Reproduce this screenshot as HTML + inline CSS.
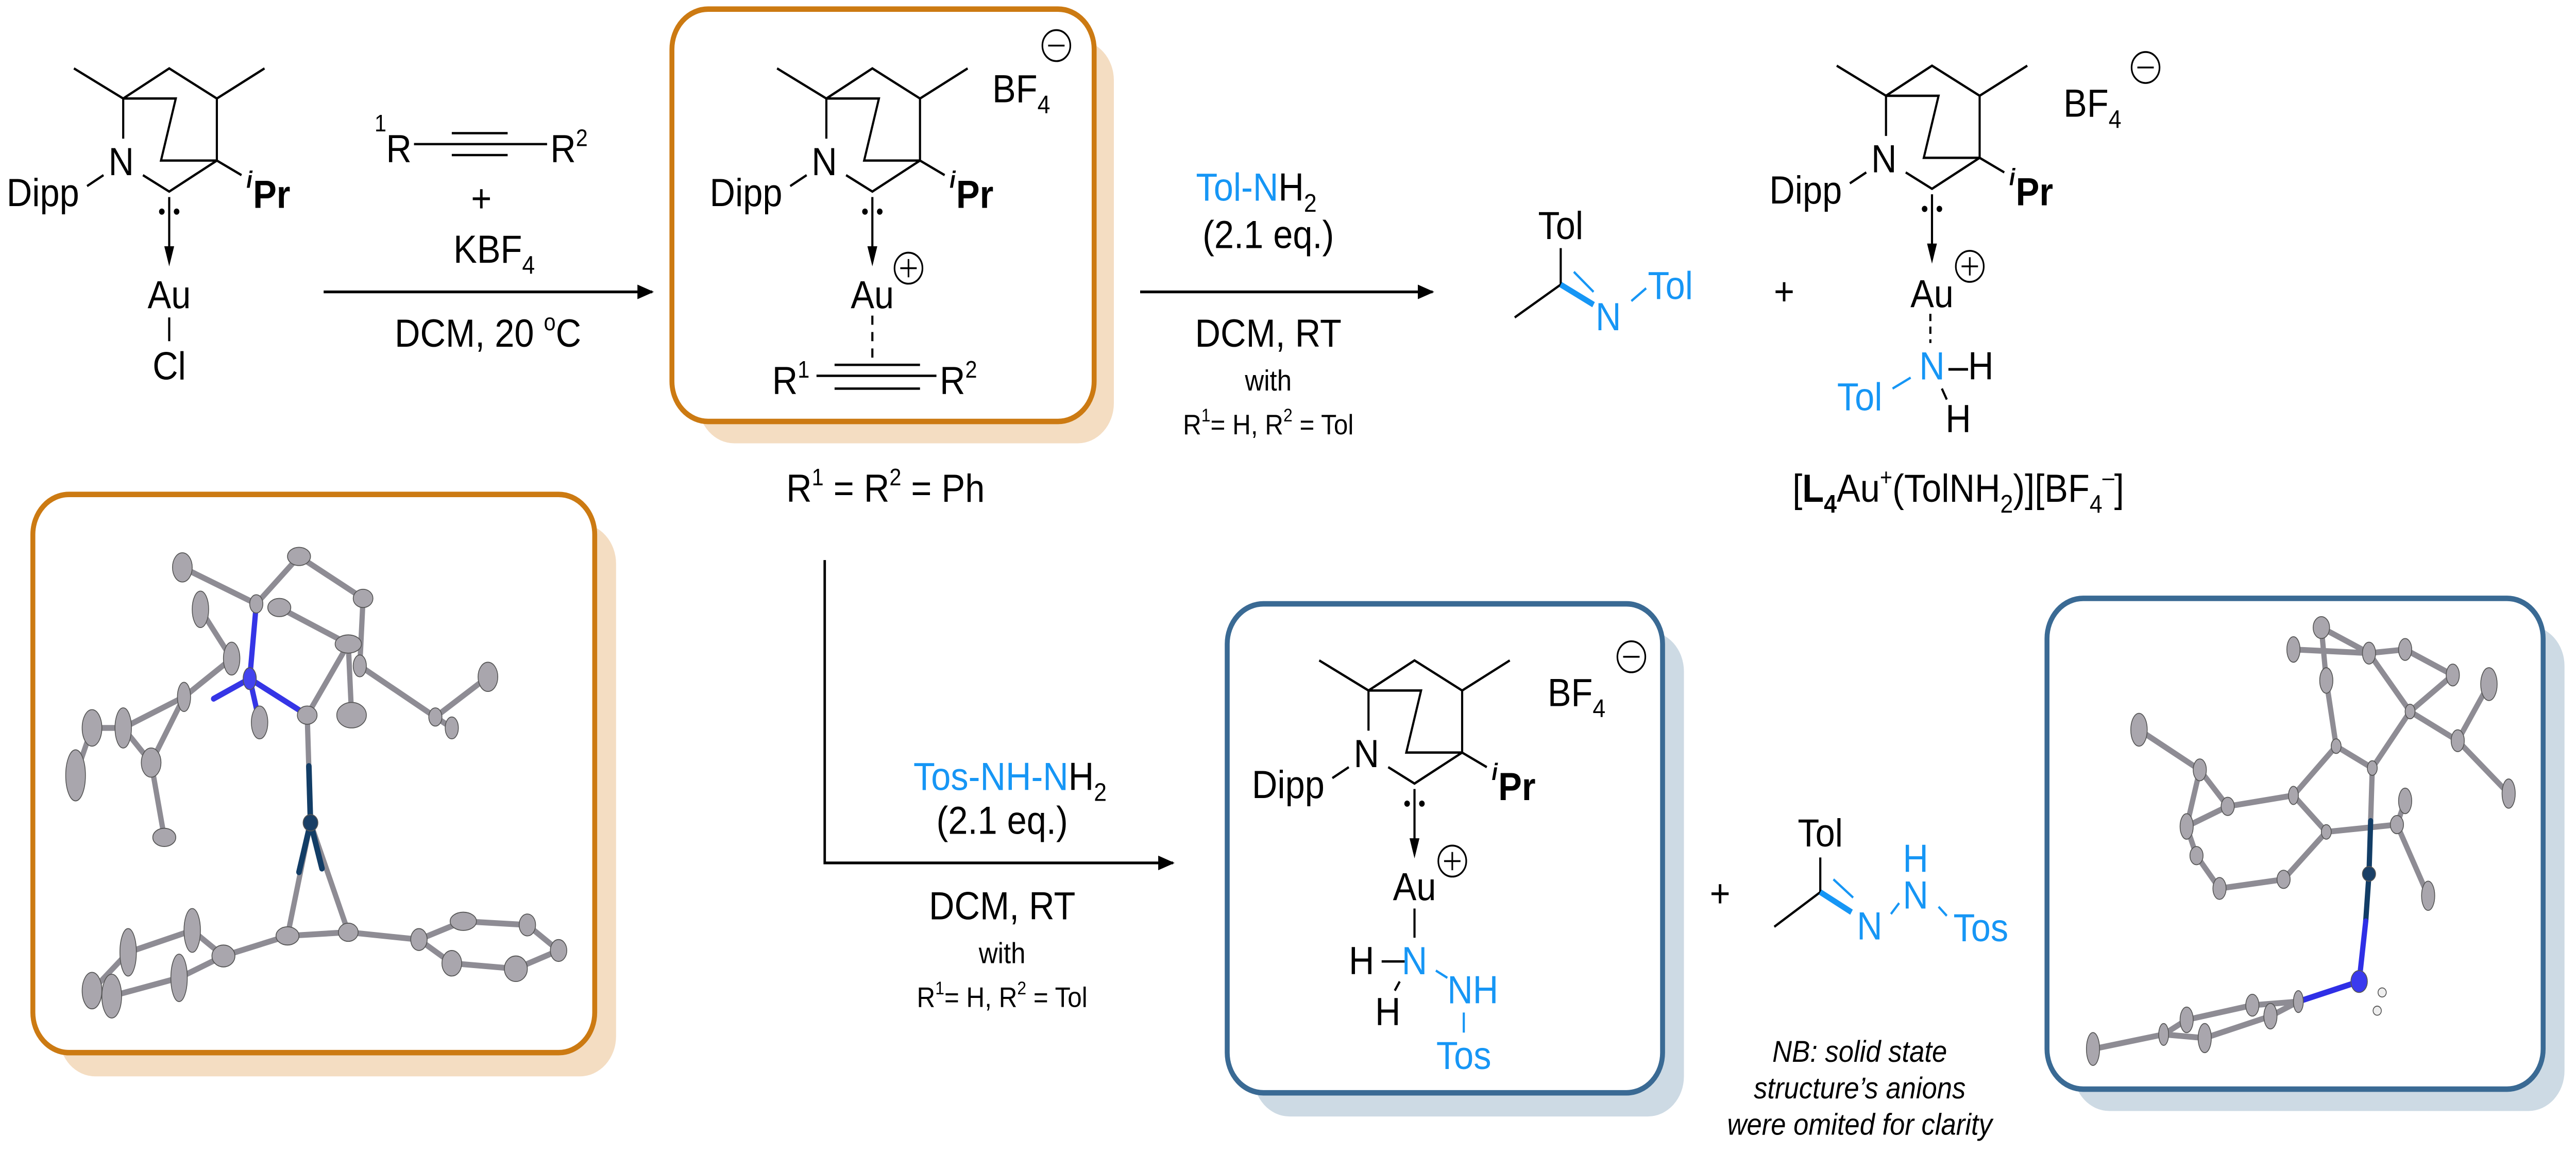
<!DOCTYPE html>
<html><head><meta charset="utf-8"><style>
html,body{margin:0;padding:0;background:#fff;overflow:hidden;width:100%;height:100%;}
svg{display:block;position:fixed;left:0;top:0;width:100vw;height:100vh;}
text{font-family:"Liberation Sans",Arial,sans-serif;}
</style></head><body>
<svg viewBox="0 0 1568 632" preserveAspectRatio="none" xmlns="http://www.w3.org/2000/svg">
<defs>
<marker id="ah" markerWidth="10" markerHeight="8" refX="9" refY="4" orient="auto" markerUnits="userSpaceOnUse"><path d="M0,0 L10,4 L0,8 Z" fill="#000"/></marker>
</defs>

<rect x="425" y="22" width="253" height="221" rx="22" fill="#F4DDC2"/>
<rect x="409" y="5" width="257" height="226" rx="22" fill="#fff" stroke="#CC7A12" stroke-width="3"/>
<rect x="36" y="287" width="339" height="303" rx="22" fill="#F4DDC2"/>
<rect x="20" y="271" width="342" height="306" rx="22" fill="#fff" stroke="#CC7A12" stroke-width="3"/>
<rect x="763" y="346" width="262" height="266" rx="22" fill="#CDDAE4"/>
<rect x="747" y="331" width="265" height="268" rx="22" fill="#fff" stroke="#3A6A94" stroke-width="3"/>
<rect x="1262" y="343" width="299" height="266" rx="22" fill="#CDDAE4"/>
<rect x="1246" y="328" width="302" height="269" rx="22" fill="#fff" stroke="#3A6A94" stroke-width="3"/>

<g stroke="#000" stroke-width="1.3" fill="none">
<g transform="translate(0,0)">
<path d="M45,37.5 L75,54 L103,37.5 L132,54 L161,37.5 M75,54 L107,54 L98,88 L132,88 M75,54 L75,76 M132,54 L132,88 L103,105 L87,96 M132,88 L147,96 M53,102 L63,96 M103,108 L103,137"/>
</g>
<g transform="translate(428,0)">
<path d="M45,37.5 L75,54 L103,37.5 L132,54 L161,37.5 M75,54 L107,54 L98,88 L132,88 M75,54 L75,76 M132,54 L132,88 L103,105 L87,96 M132,88 L147,96 M53,102 L63,96 M103,108 L103,137"/>
</g>
<g transform="translate(1073,-1.5)">
<path d="M45,37.5 L75,54 L103,37.5 L132,54 L161,37.5 M75,54 L107,54 L98,88 L132,88 M75,54 L75,76 M132,54 L132,88 L103,105 L87,96 M132,88 L147,96 M53,102 L63,96 M103,108 L103,137"/>
</g>
<g transform="translate(758,324.5)">
<path d="M45,37.5 L75,54 L103,37.5 L132,54 L161,37.5 M75,54 L107,54 L98,88 L132,88 M75,54 L75,76 M132,54 L132,88 L103,105 L87,96 M132,88 L147,96 M53,102 L63,96 M103,108 L103,137"/>
</g>
<path d="M103,174 L103,187"/>
<path d="M252,79 L333,79 M275,73 L309,73 M275,85 L309,85"/>
<path d="M531,173 L531,196" stroke-dasharray="5,4"/>
<path d="M497,206 L570,206 M508,200 L560,200 M508,213 L560,213"/>
<path d="M197,160 L397,160" stroke-width="1.5" marker-end="url(#ah)"/>
<path d="M694,160 L872,160" stroke-width="1.5" marker-end="url(#ah)"/>
<path d="M502,307 L502,473 L714,473" stroke-width="1.5" marker-end="url(#ah)"/>
<path d="M950,136 L950,156 L922,174"/>
<path d="M1175,172 L1175,188" stroke-dasharray="4,3"/>
<path d="M1182,213 L1185,219"/>
<path d="M861,498 L861,514 M841,527 L855,527 M852,538 L849,543"/>
<path d="M1108,470 L1108,489 L1080,508"/>
</g>
<g fill="#000">
<path d="M100,135 L106,135 L103,146 Z"/>
<path d="M528,135 L534,135 L531,146 Z"/>
<path d="M1173,133.5 L1179,133.5 L1176,144.5 Z"/>
<path d="M858,459.5 L864,459.5 L861,470.5 Z"/>
<circle cx="98.5" cy="116" r="1.7"/><circle cx="107.5" cy="116" r="1.7"/>
<circle cx="526.5" cy="116" r="1.7"/><circle cx="535.5" cy="116" r="1.7"/>
<circle cx="1171.5" cy="114.5" r="1.7"/><circle cx="1180.5" cy="114.5" r="1.7"/>
<circle cx="856.5" cy="440.5" r="1.7"/><circle cx="865.5" cy="440.5" r="1.7"/>
</g>
<g stroke="#1696F5" stroke-width="1.3" fill="none">
<path d="M950,156 L970,167" stroke-width="3.2"/>
<path d="M958,149 L970,160"/>
<path d="M993,165 L1002,158"/>
<path d="M1152,213 L1163,207"/>
<path d="M874,532 L881,536"/>
<path d="M891,555 L891,566"/>
<path d="M1108,489 L1127,500" stroke-width="3.2"/>
<path d="M1116,482 L1128,492"/>
<path d="M1151,501 L1156,495"/>
<path d="M1180,497 L1185,502"/>
</g>

<g fill="none" stroke="#000" stroke-width="1">
<circle cx="643" cy="25" r="8.5"/><circle cx="553" cy="147" r="8.5"/>
<circle cx="1306" cy="37" r="8.5"/><circle cx="1199" cy="146" r="8.5"/>
<circle cx="993" cy="360" r="8.5"/><circle cx="884" cy="472" r="8.5"/>
<path d="M638,25 L648,25 M548,147 L558,147 M553,142 L553,152 M1301,37 L1311,37 M1194,146 L1204,146 M1199,141 L1199,151 M988,360 L998,360 M879,472 L889,472 M884,467 L884,477"/>
</g>

<g font-size="21.5" fill="#000">
<text x="4" y="113">Dipp</text><text x="66" y="96">N</text>
<text x="150" y="103" font-size="13" font-style="italic" font-weight="bold">i</text><text x="154" y="114" font-weight="bold">Pr</text>
<text x="103" y="169" text-anchor="middle">Au</text>
<text x="103" y="208" text-anchor="middle">Cl</text>

<text x="432" y="113">Dipp</text><text x="494" y="96">N</text>
<text x="578" y="103" font-size="13" font-style="italic" font-weight="bold">i</text><text x="582" y="114" font-weight="bold">Pr</text>
<text x="531" y="169" text-anchor="middle">Au</text>
<text x="604" y="56">BF<tspan font-size="14" dy="6">4</tspan></text>
<text x="470" y="216">R<tspan font-size="13" dy="-9">1</tspan></text>
<text x="572" y="216">R<tspan font-size="13" dy="-9">2</tspan></text>

<text x="1077" y="111.5">Dipp</text><text x="1139" y="94.5">N</text>
<text x="1223" y="101.5" font-size="13" font-style="italic" font-weight="bold">i</text><text x="1227" y="112.5" font-weight="bold">Pr</text>
<text x="1176" y="168.5" text-anchor="middle">Au</text>
<text x="1256" y="64">BF<tspan font-size="14" dy="6">4</tspan></text>

<text x="762" y="437.5">Dipp</text><text x="824" y="420.5">N</text>
<text x="908" y="427.5" font-size="13" font-style="italic" font-weight="bold">i</text><text x="912" y="438.5" font-weight="bold">Pr</text>
<text x="861" y="493.5" text-anchor="middle">Au</text>
<text x="942" y="387">BF<tspan font-size="14" dy="6">4</tspan></text>
<text x="821" y="534">H</text>
<text x="861" y="534" text-anchor="middle" fill="#1696F5">N</text>
<text x="837" y="562">H</text>
<text x="881" y="550" fill="#1696F5">NH</text>
<text x="891" y="586" text-anchor="middle" fill="#1696F5">Tos</text>

<text x="228" y="72" font-size="13">1</text><text x="235" y="89">R</text>
<text x="335" y="89">R<tspan font-size="13" dy="-9">2</tspan></text>
<text x="293" y="116" text-anchor="middle">+</text>
<text x="276" y="144">KBF<tspan font-size="14" dy="6">4</tspan></text>
<text x="297" y="190" text-anchor="middle">DCM, 20 <tspan font-size="13" dy="-9">o</tspan><tspan dy="9">C</tspan></text>
<text x="539" y="275" text-anchor="middle">R<tspan font-size="13" dy="-9">1</tspan><tspan dy="9"> = R</tspan><tspan font-size="13" dy="-9">2</tspan><tspan dy="9"> = Ph</tspan></text>

<text x="728" y="110"><tspan fill="#1696F5">Tol-N</tspan>H<tspan font-size="14" dy="6">2</tspan></text>
<text x="772" y="136" text-anchor="middle">(2.1 eq.)</text>
<text x="772" y="190" text-anchor="middle">DCM, RT</text>
<text x="772" y="214" text-anchor="middle" font-size="16">with</text>
<text x="772" y="238" text-anchor="middle" font-size="15.5">R<tspan font-size="10" dy="-7">1</tspan><tspan dy="7">= H, R</tspan><tspan font-size="10" dy="-7">2</tspan><tspan dy="7"> = Tol</tspan></text>

<text x="950" y="131" text-anchor="middle">Tol</text>
<text x="979" y="181" text-anchor="middle" fill="#1696F5">N</text>
<text x="1003" y="164" fill="#1696F5">Tol</text>
<text x="1086" y="167" text-anchor="middle">+</text>
<text x="1132" y="225" text-anchor="middle" fill="#1696F5">Tol</text>
<text x="1176" y="208" text-anchor="middle" fill="#1696F5">N</text>
<text x="1186" y="208">–H</text>
<text x="1192" y="237" text-anchor="middle">H</text>
<text x="1192" y="275" text-anchor="middle">[<tspan font-weight="bold">L</tspan><tspan font-size="14" dy="6" font-weight="bold">4</tspan><tspan dy="-6">Au</tspan><tspan font-size="13" dy="-9">+</tspan><tspan dy="9">(TolNH</tspan><tspan font-size="14" dy="6">2</tspan><tspan dy="-6">)][BF</tspan><tspan font-size="14" dy="6">4</tspan><tspan font-size="13" dy="-15">–</tspan><tspan dy="9">]</tspan></text>

<text x="556" y="433"><tspan fill="#1696F5">Tos-NH-N</tspan>H<tspan font-size="14" dy="6">2</tspan></text>
<text x="610" y="457" text-anchor="middle">(2.1 eq.)</text>
<text x="610" y="504" text-anchor="middle">DCM, RT</text>
<text x="610" y="528" text-anchor="middle" font-size="16">with</text>
<text x="610" y="552" text-anchor="middle" font-size="15.5">R<tspan font-size="10" dy="-7">1</tspan><tspan dy="7">= H, R</tspan><tspan font-size="10" dy="-7">2</tspan><tspan dy="7"> = Tol</tspan></text>

<text x="1047" y="497" text-anchor="middle">+</text>
<text x="1108" y="464" text-anchor="middle">Tol</text>
<text x="1138" y="515" text-anchor="middle" fill="#1696F5">N</text>
<text x="1166" y="478" text-anchor="middle" fill="#1696F5">H</text>
<text x="1166" y="498" text-anchor="middle" fill="#1696F5">N</text>
<text x="1189" y="516" fill="#1696F5">Tos</text>
<g font-size="16.5" font-style="italic" text-anchor="middle">
<text x="1132" y="582">NB: solid state</text>
<text x="1132" y="602">structure’s anions</text>
<text x="1132" y="622">were omited for clarity</text>
</g>
</g>

<g stroke-linecap="round" fill="none">
<g stroke="#8e8c94" stroke-width="3.2">
<path d="M111,311 L156,331 L182,305 L221,328 L219,365 M170,333 L212,353 L187,392 M212,353 L214,392 M219,365 L265,393 L297,371 M265,393 L275,399 M122,334 L141,361 L112,382 L75,399 L56,399 L46,425 M75,399 L92,418 L100,459 M112,382 L92,418"/>
<path d="M189,451 L175,513 L212,511 Z M212,511 L255,515 L282,505 L321,507 L340,521 L314,531 L275,528 L255,515 M175,513 L136,524 L117,510 L78,522 L56,543 L68,546 L109,536 L136,524"/>
<path d="M187,392 L189,451"/>
</g>
<g stroke="#3535e6" stroke-width="3.2"><path d="M156,331 L152,372 L187,392 M152,372 L130,383 M152,372 L158,396"/></g>
<g stroke="#123d66" stroke-width="3.4"><path d="M188,420 L189,451 L182,478 M189,451 L196,476"/></g>
</g>
<g fill="#a9a6ad" stroke="#555" stroke-width="0.5">
<ellipse cx="111" cy="311" rx="6" ry="8"/><ellipse cx="182" cy="305" rx="7" ry="5"/><ellipse cx="221" cy="328" rx="6" ry="5"/><ellipse cx="156" cy="331" rx="4" ry="5"/><ellipse cx="170" cy="333" rx="7" ry="5"/><ellipse cx="212" cy="353" rx="8" ry="5"/><ellipse cx="219" cy="365" rx="4" ry="6"/><ellipse cx="141" cy="361" rx="5" ry="9"/><ellipse cx="187" cy="392" rx="6" ry="5"/><ellipse cx="214" cy="392" rx="9" ry="7"/><ellipse cx="297" cy="371" rx="6" ry="8"/><ellipse cx="265" cy="393" rx="4" ry="5"/><ellipse cx="275" cy="399" rx="4" ry="6"/><ellipse cx="122" cy="334" rx="5" ry="10"/><ellipse cx="112" cy="382" rx="4" ry="8"/><ellipse cx="75" cy="399" rx="5" ry="11"/><ellipse cx="56" cy="399" rx="6" ry="10"/><ellipse cx="46" cy="425" rx="6" ry="14"/><ellipse cx="92" cy="418" rx="6" ry="8"/><ellipse cx="100" cy="459" rx="7" ry="5"/><ellipse cx="158" cy="396" rx="5" ry="9"/>
<ellipse cx="175" cy="513" rx="7" ry="5"/><ellipse cx="212" cy="511" rx="6" ry="5"/><ellipse cx="255" cy="515" rx="5" ry="6"/><ellipse cx="282" cy="505" rx="8" ry="5"/><ellipse cx="321" cy="507" rx="5" ry="6"/><ellipse cx="340" cy="521" rx="5" ry="6"/><ellipse cx="314" cy="531" rx="7" ry="7"/><ellipse cx="275" cy="528" rx="6" ry="7"/><ellipse cx="136" cy="524" rx="7" ry="6"/><ellipse cx="117" cy="510" rx="5" ry="12"/><ellipse cx="78" cy="522" rx="5" ry="13"/><ellipse cx="56" cy="543" rx="6" ry="10"/><ellipse cx="68" cy="546" rx="6" ry="12"/><ellipse cx="109" cy="536" rx="5" ry="13"/>
<ellipse cx="152" cy="372" rx="4" ry="6" fill="#4444ee"/><circle cx="189" cy="451" r="4.5" fill="#1a3f66"/>
</g>

<g stroke-linecap="round" fill="none">
<g stroke="#8e8c94" stroke-width="3.2">
<path d="M1413,344 L1442,358 M1396,356 L1442,358 L1464,356 L1493,370 L1467,390 M1442,358 L1467,390 M1416,373 L1422,409 L1396,436 L1416,456 L1390,482 L1351,487 L1337,469 L1331,453 L1356,442 L1396,436 M1356,442 L1339,422 L1302,400 M1331,453 L1339,422 M1422,409 L1444,421 L1467,390 L1496,406 L1527,435 M1496,406 L1515,375 M1416,456 L1459,452 L1464,439 M1459,452 L1478,491 M1413,344 L1416,373"/>
<path d="M1444,421 L1443,450"/>
<path d="M1399,549 L1371,551 L1331,559 L1317,567 L1342,569 L1382,557 L1399,549 M1317,567 L1274,575"/>
</g>
<g stroke="#123d66" stroke-width="3.2"><path d="M1443,450 L1442,479 L1440,505"/></g>
<g stroke="#2f2fe6" stroke-width="3.2"><path d="M1440,505 L1436,538 L1399,549"/></g>
</g>
<g fill="#a9a6ad" stroke="#555" stroke-width="0.5">
<ellipse cx="1413" cy="344" rx="5" ry="6"/><ellipse cx="1396" cy="356" rx="4" ry="7"/><ellipse cx="1442" cy="358" rx="4" ry="6"/><ellipse cx="1464" cy="356" rx="4" ry="6"/><ellipse cx="1493" cy="370" rx="4" ry="6"/><ellipse cx="1416" cy="373" rx="4" ry="7"/><ellipse cx="1515" cy="375" rx="5" ry="9"/><ellipse cx="1467" cy="390" rx="3" ry="4"/><ellipse cx="1496" cy="406" rx="4" ry="6"/><ellipse cx="1527" cy="435" rx="4" ry="8"/><ellipse cx="1302" cy="400" rx="5" ry="9"/><ellipse cx="1339" cy="422" rx="4" ry="6"/><ellipse cx="1422" cy="409" rx="3" ry="4"/><ellipse cx="1444" cy="421" rx="3" ry="4"/><ellipse cx="1396" cy="436" rx="3" ry="5"/><ellipse cx="1356" cy="442" rx="4" ry="5"/><ellipse cx="1331" cy="453" rx="4" ry="7"/><ellipse cx="1337" cy="469" rx="4" ry="5"/><ellipse cx="1351" cy="487" rx="4" ry="6"/><ellipse cx="1390" cy="482" rx="4" ry="5"/><ellipse cx="1416" cy="456" rx="3" ry="4"/><ellipse cx="1459" cy="452" rx="4" ry="5"/><ellipse cx="1464" cy="439" rx="4" ry="7"/><ellipse cx="1478" cy="491" rx="4" ry="8"/>
<ellipse cx="1399" cy="549" rx="3" ry="6"/><ellipse cx="1371" cy="551" rx="4" ry="6"/><ellipse cx="1331" cy="559" rx="4" ry="7"/><ellipse cx="1317" cy="567" rx="3" ry="6"/><ellipse cx="1342" cy="569" rx="4" ry="8"/><ellipse cx="1382" cy="557" rx="4" ry="7"/><ellipse cx="1274" cy="575" rx="4" ry="9"/>
<circle cx="1442" cy="479" r="4" fill="#1a3f66"/><ellipse cx="1436" cy="538" rx="5" ry="6" fill="#3a3aee"/>
<circle cx="1450" cy="544" r="2.5" fill="#eee"/><circle cx="1447" cy="554" r="2.5" fill="#eee"/>
</g>
</svg>
</body></html>
